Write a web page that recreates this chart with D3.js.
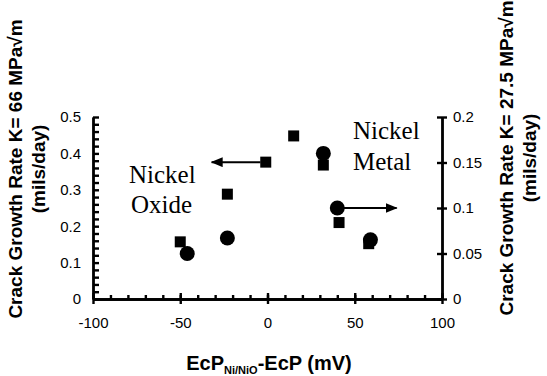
<!DOCTYPE html>
<html lang="en">
<head>
<meta charset="utf-8"/>
<title>Crack growth rate vs EcP</title>
<script src="https://d3js.org/d3.v7.min.js"></script>
<style>
  body { margin: 0; background: #fff; }
  .axis path, .axis line { stroke: #000; stroke-width: 2.4px; }
  .axis text { font-family: "Liberation Sans", Arial, sans-serif; font-size: 15px; fill: #000; }
  .ylab, .xlab { font-family: "Liberation Sans", Arial, sans-serif; font-weight: bold; fill: #000; }
  .note { font-family: "Liberation Serif", "Times New Roman", serif; font-size: 25px; fill: #000; }
</style>
</head>
<body>
<svg id="chart" width="547" height="376"></svg>
<script>
// squares -> left axis (K = 66), circles -> right axis (K = 27.5)
var squareX = [-50, -23, -1, 15, 32, 41, 58];
var squareY = [0.157, 0.288, 0.376, 0.448, 0.368, 0.21, 0.152];
var circleX = [-46, -23, 32, 40, 59];
var circleY = [0.05, 0.067, 0.16, 0.1, 0.065];

var xTicks = [-100, -50, 0, 50, 100];
var leftTicks = [0, 0.1, 0.2, 0.3, 0.4, 0.5];
var rightTicks = [0, 0.05, 0.1, 0.15, 0.2];

var svg = d3.select("#chart");

var x = d3.scaleLinear().domain([-100, 100]).range([93, 442]);
var yL = d3.scaleLinear().domain([0, 0.5]).range([299, 117]);
var yR = d3.scaleLinear().domain([0, 0.2]).range([299, 117]);

var fmt = function(d) { return String(+d.toFixed(2)); };

// x axis: minor ticks up, major ticks both ways
svg.append("g").attr("class", "axis")
	.attr("transform", "translate(0," + yL(0) + ")")
	.call(d3.axisTop(x).tickValues(d3.range(-100, 101, 10)).tickSize(4).tickSizeOuter(0).tickFormat(""));
svg.append("g").attr("class", "axis")
	.attr("transform", "translate(0," + yL(0) + ")")
	.call(d3.axisTop(x).tickValues(xTicks).tickSize(6).tickSizeOuter(0).tickFormat(""));
svg.append("g").attr("class", "axis")
	.attr("transform", "translate(0," + yL(0) + ")")
	.call(d3.axisBottom(x).tickValues(xTicks).tickSize(5).tickSizeOuter(0).tickPadding(13).tickFormat(fmt));

// left axis: minor ticks inside
svg.append("g").attr("class", "axis")
	.attr("transform", "translate(" + x(-100) + ",0)")
	.call(d3.axisRight(yL).tickValues(d3.range(0, 0.501, 0.02)).tickSize(6).tickSizeOuter(0).tickFormat(""));
svg.append("g").attr("class", "axis")
	.attr("transform", "translate(" + x(-100) + ",0)")
	.call(d3.axisLeft(yL).tickValues(leftTicks).tickSize(0).tickPadding(12).tickFormat(fmt));

// right axis: ticks across
svg.append("g").attr("class", "axis")
	.attr("transform", "translate(" + x(100) + ",0)")
	.call(d3.axisLeft(yR).tickValues(rightTicks).tickSize(5).tickSizeOuter(0).tickFormat(""));
svg.append("g").attr("class", "axis")
	.attr("transform", "translate(" + x(100) + ",0)")
	.call(d3.axisRight(yR).tickValues(rightTicks).tickSize(5).tickSizeOuter(0).tickPadding(6).tickFormat(fmt));

svg.selectAll(".axis .domain").attr("stroke-width", 2.6);

// markers
var sq = 11;
svg.append("g").selectAll("rect")
	.data(squareX.map(function(d, i) { return [d, squareY[i]]; }))
	.enter().append("rect")
	.attr("x", function(d) { return x(d[0]) - sq / 2; })
	.attr("y", function(d) { return yL(d[1]) - sq / 2; })
	.attr("width", sq).attr("height", sq)
	.attr("fill", "#000");

svg.append("g").selectAll("circle")
	.data(circleX.map(function(d, i) { return [d, circleY[i]]; }))
	.enter().append("circle")
	.attr("cx", function(d) { return x(d[0]); })
	.attr("cy", function(d) { return yR(d[1]); })
	.attr("r", 7.5)
	.attr("fill", "#000");

// arrows pointing to the axis each series belongs to
svg.append("defs").append("marker")
	.attr("id", "head")
	.attr("viewBox", "0 0 12 10")
	.attr("refX", 11).attr("refY", 5)
	.attr("markerWidth", 12).attr("markerHeight", 10)
	.attr("markerUnits", "userSpaceOnUse")
	.attr("orient", "auto")
	.append("path").attr("d", "M0,0L12,5L0,10Z").attr("fill", "#000");

svg.append("line")
	.attr("x1", x(-4)).attr("x2", x(-32))
	.attr("y1", yL(0.376)).attr("y2", yL(0.376))
	.attr("stroke", "#000").attr("stroke-width", 2)
	.attr("marker-end", "url(#head)");
svg.append("line")
	.attr("x1", x(43)).attr("x2", x(74))
	.attr("y1", yR(0.1)).attr("y2", yR(0.1))
	.attr("stroke", "#000").attr("stroke-width", 2)
	.attr("marker-end", "url(#head)");

// series notes
svg.append("text").attr("class", "note").attr("x", 129).attr("y", 183).text("Nickel");
svg.append("text").attr("class", "note").attr("x", 131).attr("y", 213).text("Oxide");
svg.append("text").attr("class", "note").attr("x", 353).attr("y", 139).text("Nickel");
svg.append("text").attr("class", "note").attr("x", 353).attr("y", 170).text("Metal");

// axis titles
function yTitle(cx, cy, line1, line2) {
	var t = svg.append("text").attr("class", "ylab")
		.attr("transform", "translate(" + cx + "," + cy + ") rotate(-90)")
		.attr("text-anchor", "middle").style("font-size", "19px");
	t.append("tspan").attr("x", 0).attr("y", 0).text(line1);
	t.append("tspan").attr("x", 0).attr("y", 23).text(line2);
}
yTitle(22, 169, "Crack Growth Rate K= 66 MPa\u221Am", "(mils/day)");
yTitle(513, 158, "Crack Growth Rate K= 27.5 MPa\u221Am", "(mils/day)");

var xl = svg.append("text").attr("class", "xlab")
	.attr("x", 269).attr("y", 370).attr("text-anchor", "middle").style("font-size", "20px");
xl.append("tspan").text("EcP");
xl.append("tspan").attr("dy", 4).style("font-size", "11px").text("Ni/NiO");
xl.append("tspan").attr("dy", -4).text("-EcP (mV)");
</script>
</body>
</html>
